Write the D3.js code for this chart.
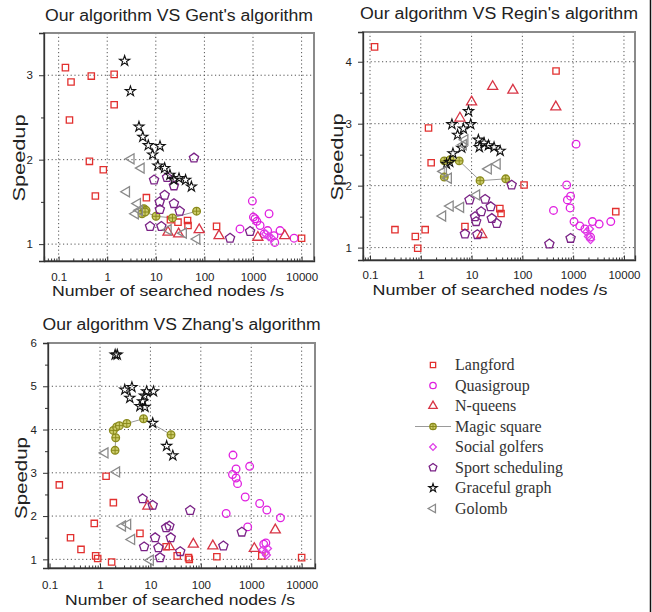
<!DOCTYPE html>
<html>
<head>
<meta charset="utf-8">
<script src="https://cdn.jsdelivr.net/npm/d3@7"></script>
<style>
  body { margin: 0; background: #fff; }
  svg { display: block; }
  .tick text { font-family: "Liberation Sans", Arial, sans-serif; font-size: 11.5px; fill: #222; }
</style>
</head>
<body>
<svg id="chart" width="652" height="612"></svg>
<script>
// series names, legend order
const seriesNames = ["Langford", "Quasigroup", "N-queens", "Magic square",
  "Social golfers", "Sport scheduling", "Graceful graph", "Golomb"];
const xTickValues = [0.1, 1, 10, 100, 1000, 10000];

// ---- Our algorithm VS Gent's algorithm
const gentLangford = [[0.138,3.09],[0.18,2.92],[0.167,2.47],[0.47,2.99],[1.39,3.01],[1.39,2.65],[0.43,1.98],[0.83,1.88],[0.57,1.57],[6.4,1.55],[20,1.29],[28.6,1.26],[45,1.28],[46,1.22],[178,1.21],[10000,1.07]];
const gentQuasigroup = [[970,1.51],[1020,1.32],[1100,1.30],[1200,1.27],[2140,1.36],[1400,1.22],[2000,1.16],[2700,1.10],[2800,1.02],[3600,1.16],[540,1.18],[7000,1.07],[1700,1.12]];
const gentNqueens = [[17.8,1.14],[29.5,1.12],[78,1.17],[200,1.10],[1260,1.08],[4500,1.10]];
const gentMagic = [[5.2,1.36],[5.7,1.42],[6.3,1.40],[6.0,1.38],[10.1,1.33],[22,1.31],[69,1.39]];
const gentGolfers = [[1830,1.12],[2400,1.07],[2100,1.09]];
const gentSport = [[61,2.02],[9.2,1.76],[17,1.79],[23.6,1.69],[15.2,1.58],[12,1.50],[23.6,1.48],[31,1.39],[12.1,1.41],[7.6,1.21],[13,1.21],[337,1.07],[870,1.15]];
const gentGraceful = [[2.28,3.17],[3.0,2.81],[4.5,2.39],[5.4,2.27],[7.0,2.17],[12.2,2.16],[8.6,2.06],[11,1.93],[15.2,1.90],[19.5,1.82],[23.6,1.76],[30,1.78],[41,1.76],[54,1.68]];
const gentGolomb = [[3.1,2.01],[5.0,1.90],[2.5,1.62],[4.2,1.48],[3.8,1.36],[4.6,1.40],[18,1.17],[37,1.13],[70,1.06]];

// ---- Our algorithm VS Regin's algorithm
const reginLangford = [[0.123,4.24],[460,3.85],[1.42,2.93],[1.6,2.37],[0.31,1.29],[0.78,1.18],[0.87,0.99],[1.22,1.29],[7.4,1.34],[36,1.63],[38,1.55],[108,2.01],[6900,1.58]];
const reginQuasigroup = [[1140,2.67],[745,2.01],[770,1.77],[890,1.83],[870,1.64],[410,1.60],[1040,1.42],[1350,1.35],[1700,1.30],[2400,1.42],[3250,1.38],[5500,1.42],[2200,1.17]];
const reginNqueens = [[26,3.60],[65,3.54],[455,3.27],[10,3.35],[5.9,3.09],[15.9,1.21]];
const reginMagic = [[2.9,2.14],[2.9,2.40],[3.8,2.42],[5.7,2.40],[14.7,2.08],[47,2.11]];
const reginGolfers = [[1850,1.25],[2000,1.18],[2200,1.13],[2100,1.30]];
const reginSport = [[9.1,1.77],[18.5,1.78],[23.8,1.66],[15.4,1.58],[11.7,1.50],[25,1.47],[31.3,1.39],[12.3,1.42],[7.4,1.22],[13,1.21],[61.5,2.01],[340,1.06],[890,1.15]];
const reginGraceful = [[8.7,3.20],[4.1,2.99],[9.6,2.99],[6.9,2.92],[5.3,2.82],[6.4,2.61],[13.6,2.74],[14.2,2.62],[17.6,2.69],[21.5,2.65],[27.7,2.62],[36.5,2.56],[4.3,2.52],[3.7,2.38],[3.2,2.35]];
const reginGolomb = [[7.4,2.74],[6.9,2.66],[2.8,2.23],[3.5,2.12],[21.4,2.27],[32,2.35],[12.6,1.85],[3.8,1.67],[6.1,1.65],[2.7,1.51]];

// ---- Our algorithm VS Zhang's algorithm
const zhangLangford = [[0.156,2.72],[0.26,1.50],[0.42,1.23],[0.77,1.83],[0.82,1.08],[0.90,1.02],[1.32,2.92],[1.84,2.31],[1.7,0.94],[6.2,1.60],[20.5,1.29],[34,1.08],[57,1.04],[59,1.0],[208,1.06],[1620,1.08],[10000,1.04]];
const zhangQuasigroup = [[435,3.41],[500,3.09],[425,2.96],[500,2.88],[535,2.75],[930,3.15],[760,2.44],[1470,2.29],[2040,2.14],[3800,1.96],[318,2.06],[850,1.75],[1770,1.35],[1950,1.38]];
const zhangNqueens = [[8.9,2.23],[23.8,1.29],[71,1.35],[173,1.31],[1150,1.25],[3000,1.68]];
const zhangMagic = [[1.99,3.52],[2.05,3.81],[1.84,3.98],[2.14,4.06],[2.42,4.09],[3.4,4.14],[7.3,4.25],[25.6,3.88]];
const zhangGolfers = [[1700,1.22],[1900,1.15],[2100,1.25],[2000,1.10]];
const zhangSport = [[7.0,2.40],[11.1,2.25],[61.5,2.13],[20.5,1.73],[23.8,1.77],[12.4,1.50],[25.3,1.50],[7.5,1.29],[14.4,1.27],[39,1.18],[15.5,1.04],[280,1.31],[650,1.63]];
const zhangGraceful = [[2.0,5.73],[2.2,5.73],[3.1,4.92],[4.3,4.98],[3.9,4.73],[6.2,4.54],[7.6,4.78],[8.4,4.88],[11.5,4.88],[7.0,4.65],[7.8,4.52],[11.1,4.15],[21,3.62],[27.8,3.40]];
const zhangGolomb = [[1.26,3.46],[2.14,3.02],[2.8,1.77],[3.55,1.81],[4.25,1.46],[10,0.98]];

const panels = [
  { title: "Our algorithm VS Gent's algorithm", box: [44, 33, 314, 261], xd: [0.05, 18000], yd: [0.8, 3.5], yTicks: [1, 2, 3],
    titleY: 21, titleW: 268, tickPad: 11.5, xLabel: [168, 296, 232], yLabel: [25, 158, 87],
    series: [gentLangford, gentQuasigroup, gentNqueens, gentMagic, gentGolfers, gentSport, gentGraceful, gentGolomb] },
  { title: "Our algorithm VS Regin's algorithm", box: [363, 32, 635, 260], xd: [0.0728, 16500], yd: [0.8, 4.48], yTicks: [1, 2, 3, 4],
    titleY: 19, titleW: 278, tickPad: 10.5, xLabel: [490, 295, 235], yLabel: [343, 157, 87],
    series: [reginLangford, reginQuasigroup, reginNqueens, reginMagic, reginGolfers, reginSport, reginGraceful, reginGolomb] },
  { title: "Our algorithm VS Zhang's algorithm", box: [48, 343, 315, 568], xd: [0.093, 18400], yd: [0.8, 6], yTicks: [1, 2, 3, 4, 5, 6],
    titleY: 330, titleW: 278, tickPad: 12.5, xLabel: [180, 605, 230], yLabel: [27, 478, 82],
    series: [zhangLangford, zhangQuasigroup, zhangNqueens, zhangMagic, zhangGolfers, zhangSport, zhangGraceful, zhangGolomb] }
];

const pentagon = {
  draw(ctx, size) {
    const r = Math.sqrt(size / 2.378);
    for (let i = 0; i < 5; i++) {
      const a = -Math.PI / 2 + i * 2 * Math.PI / 5;
      if (i === 0) ctx.moveTo(r * Math.cos(a), r * Math.sin(a));
      else ctx.lineTo(r * Math.cos(a), r * Math.sin(a));
    }
    ctx.closePath();
  }
};

const styles = [
  { shape: d3.symbolSquare, size: 40, stroke: "#e2302f", fill: "none", rot: 0 },
  { shape: d3.symbolCircle, size: 46, stroke: "#e020e0", fill: "none", rot: 0 },
  { shape: d3.symbolTriangle, size: 44, stroke: "#d83545", fill: "none", rot: 0 },
  { shape: d3.symbolCircle, size: 46, stroke: "#8a8a1c", fill: "#cccc6a", rot: 0, plus: true },
  { shape: d3.symbolSquare, size: 32, stroke: "#e040e8", fill: "none", rot: 45 },
  { shape: pentagon, size: 56, stroke: "#7a2286", fill: "none", rot: 0 },
  { shape: d3.symbolStar, size: 32, stroke: "#111", fill: "none", rot: 0, sw: 1.1 },
  { shape: d3.symbolTriangle, size: 44, stroke: "#8a8a8a", fill: "none", rot: -90 }
];

const svg = d3.select("#chart");
const sans = "'Liberation Sans', Arial, sans-serif";

function drawMarker(g, st, x, y) {
  const m = g.append("g").attr("transform", "translate(" + x + "," + y + ")");
  m.append("path")
    .attr("d", d3.symbol(st.shape, st.size)())
    .attr("transform", "rotate(" + st.rot + ")")
    .attr("fill", st.fill)
    .attr("stroke", st.stroke)
    .attr("stroke-width", st.sw || 1.3);
  if (st.plus) {
    const r = Math.sqrt(st.size / Math.PI);
    m.append("path").attr("d", "M" + -r + ",0H" + r + "M0," + -r + "V" + r)
      .attr("stroke", st.stroke).attr("stroke-width", 1);
  }
}

panels.forEach((p) => {
  const [x0, y0, x1, y1] = p.box;
  const x = d3.scaleLog().domain(p.xd).range([x0, x1]);
  const y = d3.scaleLinear().domain(p.yd).range([y1, y0]);
  const g = svg.append("g");

  // grid
  g.append("g").selectAll("line").data(xTickValues.filter((v) => x(v) > x0 + 2)).join("line")
    .attr("x1", (d) => x(d)).attr("x2", (d) => x(d)).attr("y1", y0).attr("y2", y1)
    .attr("stroke", "#555").attr("stroke-width", 1).attr("stroke-dasharray", "1.2,2.6");
  g.append("g").selectAll("line").data(p.yTicks.filter((v) => y(v) > y0 + 2)).join("line")
    .attr("y1", (d) => y(d)).attr("y2", (d) => y(d)).attr("x1", x0).attr("x2", x1)
    .attr("stroke", "#555").attr("stroke-width", 1).attr("stroke-dasharray", "1.2,2.6");

  // frame
  g.append("rect").attr("x", x0).attr("y", y0).attr("width", x1 - x0).attr("height", y1 - y0)
    .attr("fill", "none").attr("stroke", "#8a8a8a").attr("stroke-width", 2);

  // bottom axis: major + minor ticks pointing inward
  const minors = [];
  for (let e = -2; e <= 4; e++) for (let k = 2; k <= 9; k++) {
    const v = k * Math.pow(10, e);
    if (v > p.xd[0] && v < p.xd[1]) minors.push(v);
  }
  g.append("g").attr("transform", "translate(0," + y1 + ")")
    .call(d3.axisBottom(x).tickValues(minors).tickFormat("").tickSize(-2.5))
    .call((a) => a.select(".domain").remove())
    .call((a) => a.selectAll("text").remove())
    .call((a) => a.selectAll("line").attr("stroke", "#333"));
  g.append("g").attr("transform", "translate(0," + y1 + ")")
    .call(d3.axisBottom(x).tickValues(xTickValues).tickFormat(d3.format("~g")).tickSize(-4.5).tickPadding(p.tickPad))
    .call((a) => a.select(".domain").attr("stroke", "#333").attr("stroke-width", 1.3))
    .call((a) => a.selectAll("line").attr("stroke", "#333"));

  // left axis: major + half-step minor ticks outward
  const yMinor = d3.range(p.yTicks[0] - 0.5, p.yd[1], 0.5).filter((v) => v > p.yd[0] && !p.yTicks.includes(v));
  g.append("g").attr("transform", "translate(" + x0 + ",0)")
    .call(d3.axisLeft(y).tickValues(yMinor).tickFormat("").tickSize(3))
    .call((a) => a.select(".domain").remove())
    .call((a) => a.selectAll("text").remove())
    .call((a) => a.selectAll("line").attr("stroke", "#333"));
  g.append("g").attr("transform", "translate(" + x0 + ",0)")
    .call(d3.axisLeft(y).tickValues(p.yTicks).tickFormat(d3.format("d")).tickSize(5).tickPadding(6))
    .call((a) => a.select(".domain").attr("stroke", "#333").attr("stroke-width", 1.3))
    .call((a) => a.selectAll("line").attr("stroke", "#333"));

  // magic square connecting line
  const magicIdx = seriesNames.indexOf("Magic square");
  g.append("path").datum(p.series[magicIdx])
    .attr("d", d3.line().x((d) => x(d[0])).y((d) => y(d[1])))
    .attr("fill", "none").attr("stroke", "#9a9a9a").attr("stroke-width", 1);

  // markers
  p.series.forEach((pts, i) => {
    const sg = g.append("g");
    pts.forEach((d) => drawMarker(sg, styles[i], x(d[0]), y(d[1])));
  });

  // texts
  svg.append("text").attr("x", (x0 + x1) / 2).attr("y", p.titleY).attr("text-anchor", "middle")
    .attr("textLength", p.titleW).attr("lengthAdjust", "spacingAndGlyphs")
    .style("font-family", sans).style("font-size", "16px").attr("fill", "#222").text(p.title);
  svg.append("text").attr("x", p.xLabel[0]).attr("y", p.xLabel[1]).attr("text-anchor", "middle")
    .attr("textLength", p.xLabel[2]).attr("lengthAdjust", "spacingAndGlyphs")
    .style("font-family", sans).style("font-size", "15.5px").attr("fill", "#222").text("Number of searched nodes /s");
  svg.append("text").attr("transform", "translate(" + p.yLabel[0] + "," + p.yLabel[1] + ") rotate(-90)")
    .attr("text-anchor", "middle")
    .attr("textLength", p.yLabel[2]).attr("lengthAdjust", "spacingAndGlyphs")
    .style("font-family", sans).style("font-size", "17px").attr("fill", "#222").text("Speedup");
});

// legend
const legend = svg.append("g").attr("transform", "translate(433,365)");
seriesNames.forEach((name, i) => {
  const yy = i * 20.5;
  if (name === "Magic square") {
    legend.append("line").attr("x1", -18).attr("x2", 18).attr("y1", yy).attr("y2", yy)
      .attr("stroke", "#9a9a9a").attr("stroke-width", 1);
  }
  drawMarker(legend, Object.assign({}, styles[i], { size: styles[i].size * 0.7 }), 0, yy);
  legend.append("text").attr("x", 22).attr("y", yy + 5)
    .style("font-family", "'Liberation Serif', 'Times New Roman', serif").style("font-size", "16px")
    .attr("fill", "#333").text(name);
});

// right border line of the image
svg.append("line").attr("x1", 650.5).attr("x2", 650.5).attr("y1", 0).attr("y2", 612)
  .attr("stroke", "#111").attr("stroke-width", 1.5);
</script>
</body>
</html>
